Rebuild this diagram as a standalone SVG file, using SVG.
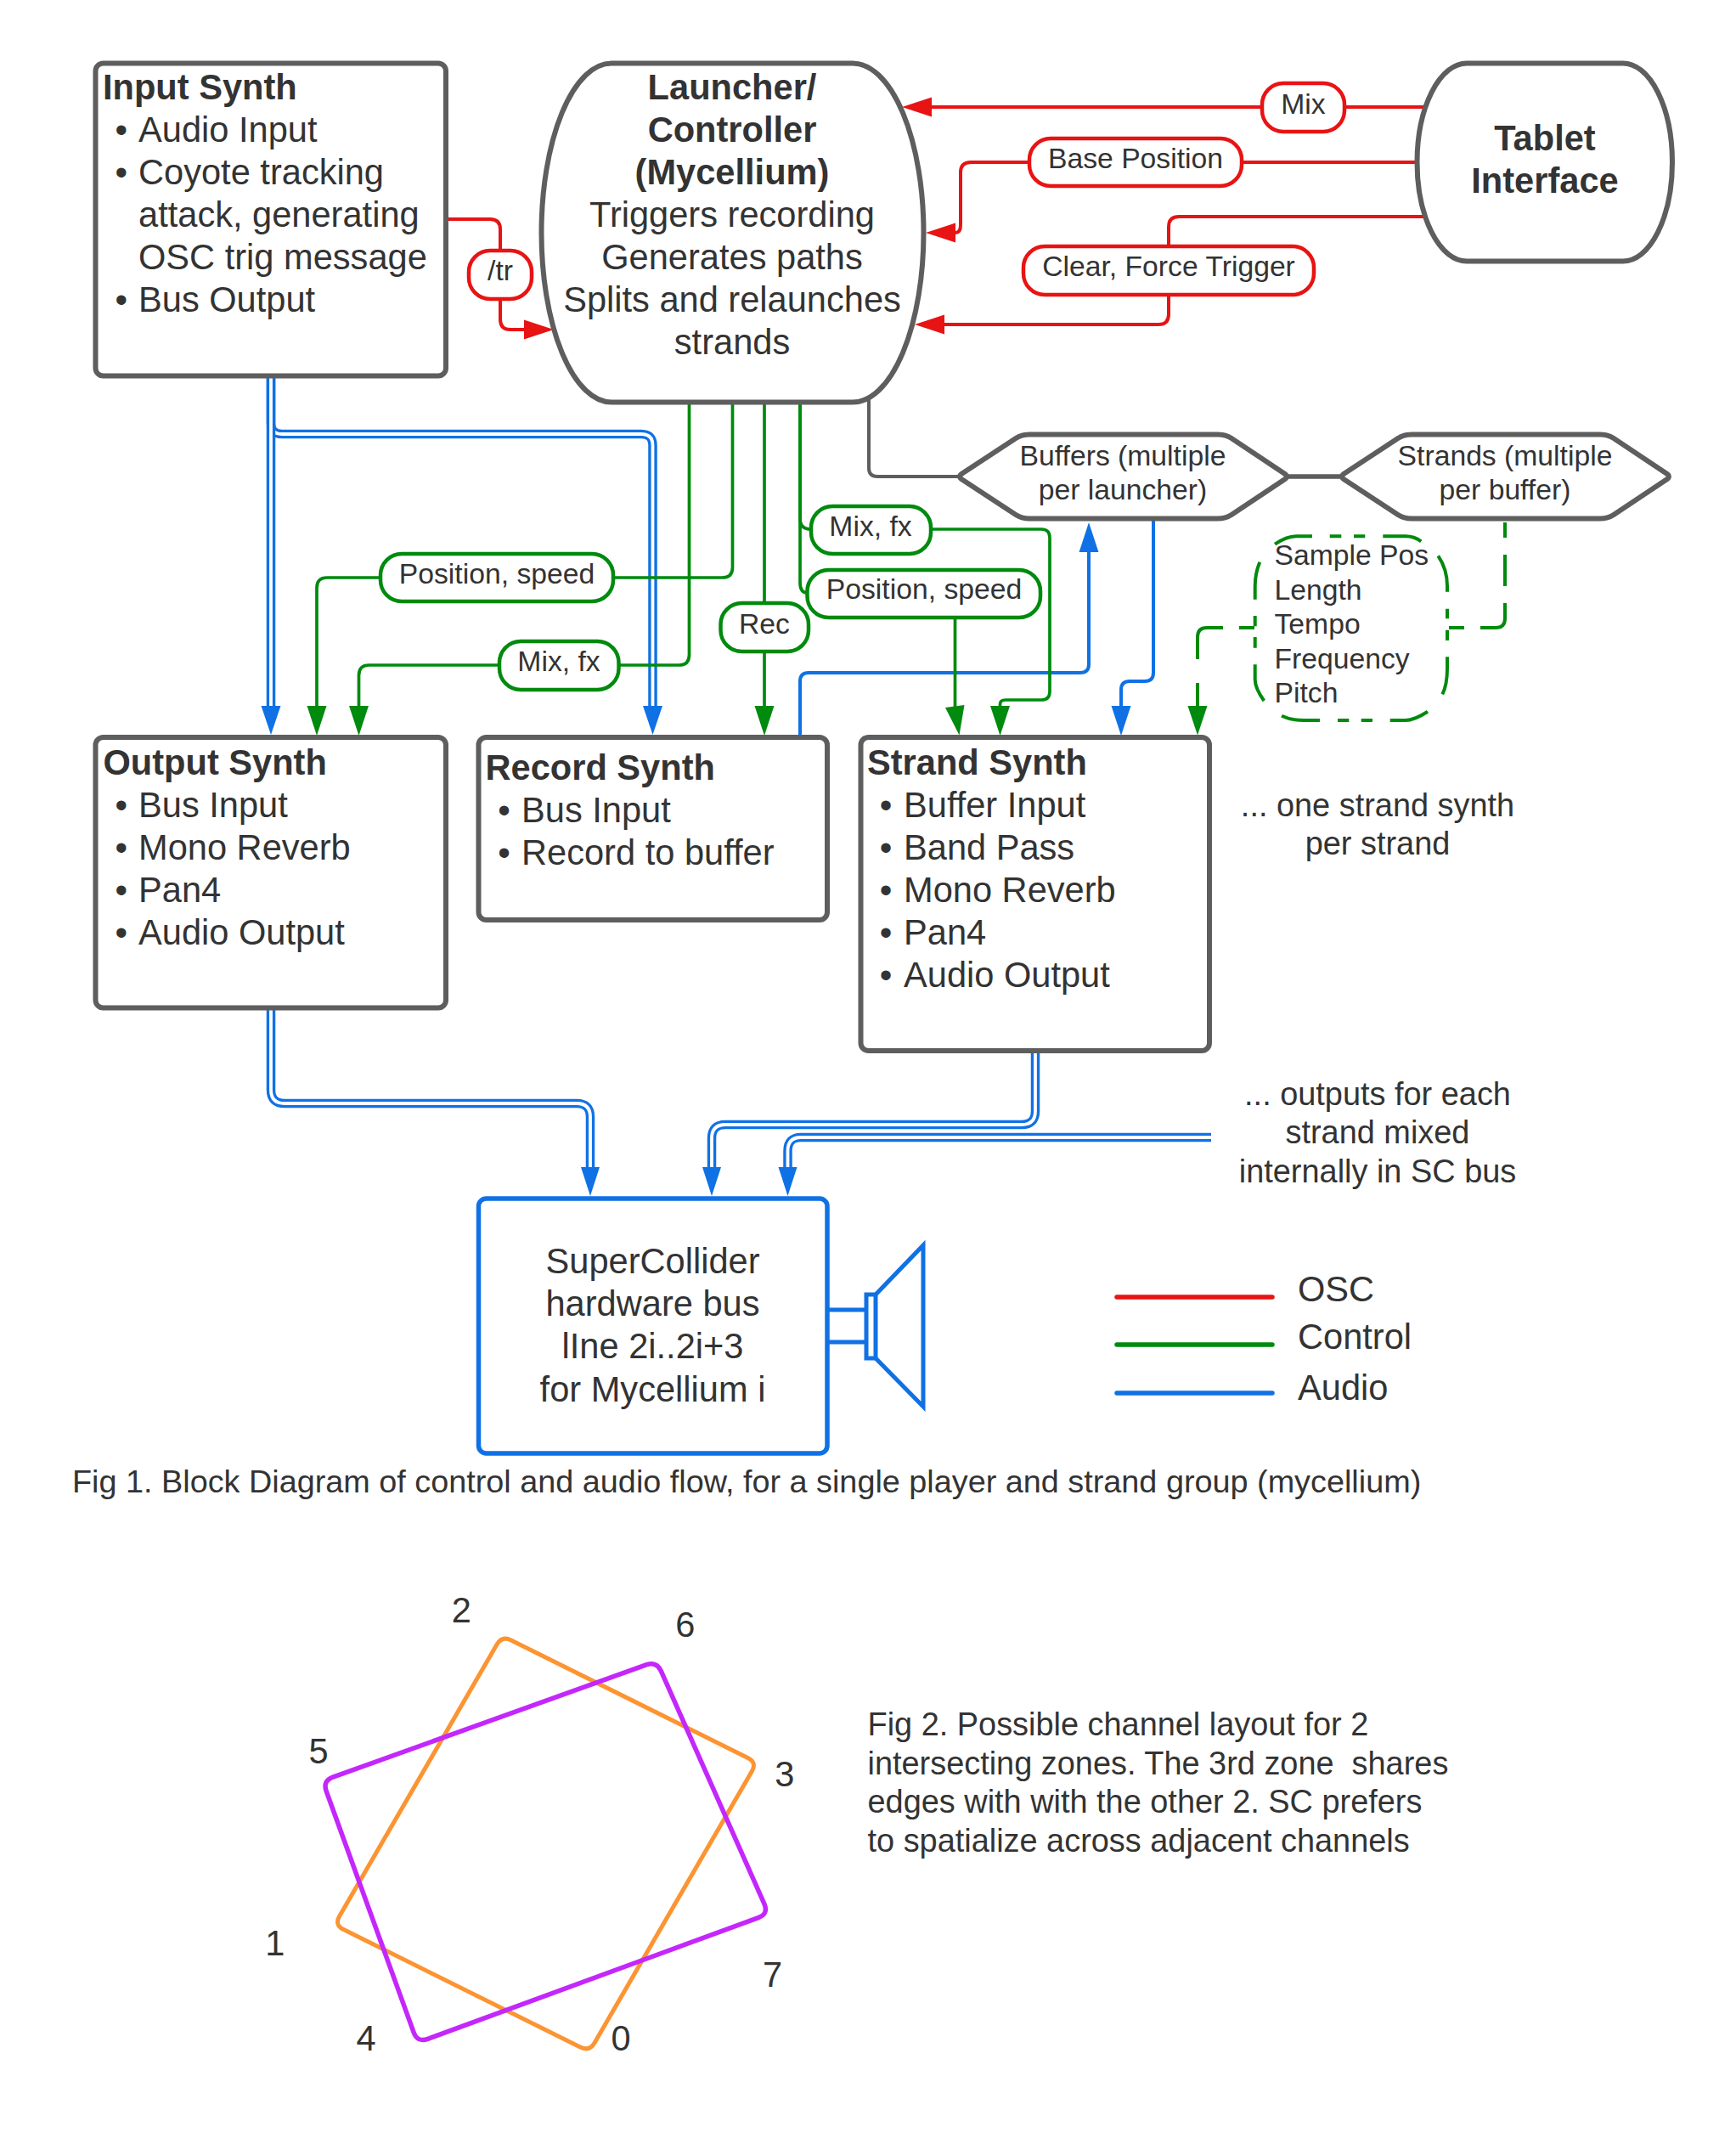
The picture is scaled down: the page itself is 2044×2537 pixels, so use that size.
<svg xmlns="http://www.w3.org/2000/svg" width="2044" height="2537" viewBox="0 0 2044 2537">
<style>
text{font-family:"Liberation Sans",Arial,sans-serif;fill:#333;font-size:41.6px;white-space:pre}
.b{font-weight:700}.m{text-anchor:middle}.s{font-size:33.7px}.f{font-size:37.9px}.c{font-size:37.8px}
.box{fill:#fff;stroke:#5e5e5e;stroke-width:6;stroke-linejoin:round}
.lr,.lg,.lgd,.lb,.lk{fill:none;stroke-width:4}
.lr{stroke:#e81313}.lg,.lgd{stroke:#008a0e}.lb{stroke:#1071e5}.lk{stroke:#5e5e5e}
.lg{stroke-width:3.7}
.thick{stroke-width:5.5}
.d1{fill:none;stroke:#1071e5;stroke-width:10.5}.d2{fill:none;stroke:#fff;stroke-width:3.8}
.pr,.pg{fill:#fff;stroke-width:4.5}.pr{stroke:#e81313}.pg{stroke:#008a0e}
</style>
<defs>
<marker id="ar" markerUnits="userSpaceOnUse" markerWidth="36" markerHeight="24" refX="0" refY="12" orient="auto"><path d="M0 .5L35 12L0 23.5z" fill="#e81313"/></marker>
<marker id="ag" markerUnits="userSpaceOnUse" markerWidth="36" markerHeight="24" refX="0" refY="12" orient="auto"><path d="M0 .5L35 12L0 23.5z" fill="#008a0e"/></marker>
<marker id="ab" markerUnits="userSpaceOnUse" markerWidth="36" markerHeight="24" refX="0" refY="12" orient="auto"><path d="M0 .5L35 12L0 23.5z" fill="#1071e5"/></marker>
</defs>
<g id="connectors">
<g id="audio">
<path class="lb" marker-end="url(#ab)" d="M942 868V802Q942 792 952 792H1272Q1282 792 1282 782V650"/>
<path class="lb" marker-end="url(#ab)" d="M1358 611V792Q1358 802 1348 802H1330Q1320 802 1320 812V831"/>
<path class="d1" d="M319 443V498Q319 511 332 511H755Q768.500 511 768.500 524V831"/>
<path class="d2" d="M319 443V498Q319 511 332 511H755Q768.500 511 768.500 524V831"/>
<path class="d1" d="M319 443V831"/><path class="d2" d="M319 443V831"/>
<path class="d1" d="M319 1186V1283Q319 1299 335 1299H679Q695 1299 695 1315V1374"/>
<path class="d2" d="M319 1186V1283Q319 1299 335 1299H679Q695 1299 695 1315V1374"/>
<path class="d1" d="M1219 1236V1308Q1219 1324 1203 1324H854Q838 1324 838 1340V1374"/>
<path class="d2" d="M1219 1236V1308Q1219 1324 1203 1324H854Q838 1324 838 1340V1374"/>
<path class="d1" d="M1426 1339H943Q927.500 1339 927.500 1355V1374"/>
<path class="d2" d="M1426 1339H943Q927.500 1339 927.500 1355V1374"/>
<path fill="#1071e5" d="M319 865L307.500 831H330.500zM768.500 865L757 831H780zM695 1408L684 1374H706zM838 1408L827 1374H849zM927.500 1408L916.500 1374H938.500z"/>
</g>
<g id="structure">
<path class="lk" d="M1023 462V551Q1023 561 1033 561H1132"/>
<path class="lk thick" d="M1515 561H1580"/>
</g>
<g id="osc">
<path class="lr" marker-end="url(#ar)" d="M525 258H577Q589 258 589 270V376Q589 388 601 388H617"/>
<path class="lr" marker-end="url(#ar)" d="M1676 126H1097"/>
<path class="lr" marker-end="url(#ar)" d="M1668 191H1143Q1131 191 1131 203V265Q1131 274 1125 274"/>
<path class="lr" marker-end="url(#ar)" d="M1676 255H1388Q1376 255 1376 267V370Q1376 382 1364 382H1112"/>
</g>
<g id="control">
<path class="lg" marker-end="url(#ag)" d="M862.500 475V668Q862.500 680 850.500 680H385Q373 680 373 692V831"/>
<path class="lg" marker-end="url(#ag)" d="M811.500 475V771Q811.500 783 799.500 783H434.500Q422.500 783 422.500 795V831"/>
<path class="lg" marker-end="url(#ag)" d="M900 475V831"/>
<path class="lg" d="M942 475V611Q942 623 955 623"/>
<path class="lg" d="M942 475V686Q942 698 951 698"/>
<path class="lg" marker-end="url(#ag)" d="M1096 623H1226Q1236 623 1236 633V814Q1236 824 1226 824H1184Q1177.500 824 1177.500 829V831"/>
<path class="lg" d="M1124.500 727V833"/>
<polygon fill="#008a0e" points="1113,833 1135.500,830 1129.500,865.500"/>
<path class="lgd" d="M1772 615V633M1772 653V690M1772 710V728Q1772 739 1761 739H1743M1724 739H1706M1477 739H1459M1440 739H1421Q1410 739 1410 750V776M1410 804V832"/>
<polygon fill="#008a0e" points="1398.500,831 1421.500,831 1410,865.500"/>
</g>
</g>
<g id="input-synth">
<rect class="box" x="112.500" y="74.500" width="412.500" height="368" rx="9"/>
<text class="b" x="121" y="116.500">Input Synth</text>
<text class="m" x="142.700" y="166.500">•</text><text x="163" y="166.500">Audio Input</text>
<text class="m" x="142.700" y="216.500">•</text><text x="163" y="216.500">Coyote tracking</text>
<text x="163" y="266.500">attack, generating</text>
<text x="163" y="316.500">OSC trig message</text>
<text class="m" x="142.700" y="366.500">•</text><text x="163" y="366.500">Bus Output</text>
</g>
<g id="launcher">
<path class="box" d="M720 74.500H1004A83.500 199.500 0 0 1 1004 473.500H720A82.500 199.500 0 0 1 720 74.500Z"/>
<text class="b m" x="862" y="116.500">Launcher/</text>
<text class="b m" x="862" y="166.500">Controller</text>
<text class="b m" x="862" y="216.500">(Mycellium)</text>
<text class="m" x="862" y="266.500">Triggers recording</text>
<text class="m" x="862" y="316.500">Generates paths</text>
<text class="m" x="862" y="366.500">Splits and relaunches</text>
<text class="m" x="862" y="416.500">strands</text>
</g>
<g id="tablet">
<path class="box" d="M1727 74.500H1911A58 116.500 0 0 1 1911 307.500H1727A58.500 116.500 0 0 1 1727 74.500Z"/>
<text class="b m" x="1819" y="177">Tablet</text>
<text class="b m" x="1819" y="227">Interface</text>
</g>
<g id="label-tr"><rect class="pr" x="552" y="295" width="74" height="57" rx="25"/><text class="s m" x="589" y="330">/tr</text></g>
<g id="label-mix-osc"><rect class="pr" x="1486" y="98" width="97" height="57" rx="25"/><text class="s m" x="1534.500" y="134">Mix</text></g>
<g id="label-base"><rect class="pr" x="1212" y="163" width="250" height="56" rx="25"/><text class="s m" x="1337" y="198">Base Position</text></g>
<g id="label-clear"><rect class="pr" x="1205" y="290" width="342" height="57" rx="25"/><text class="s m" x="1376" y="325">Clear, Force Trigger</text></g>
<g id="label-pos-1"><rect class="pg" x="448" y="652" width="274" height="56" rx="25"/><text class="s m" x="585" y="687">Position, speed</text></g>
<g id="label-mix-1"><rect class="pg" x="588" y="755" width="140.500" height="57" rx="25"/><text class="s m" x="658" y="790">Mix, fx</text></g>
<g id="label-rec"><rect class="pg" x="848.500" y="710" width="103.500" height="57" rx="25"/><text class="s m" x="900" y="746">Rec</text></g>
<g id="label-mix-2"><rect class="pg" x="955" y="596" width="141" height="56" rx="25"/><text class="s m" x="1025" y="631">Mix, fx</text></g>
<g id="label-pos-2"><rect class="pg" x="950.500" y="671" width="274.500" height="56" rx="25"/><text class="s m" x="1088" y="705">Position, speed</text></g>
<g id="buffers">
<path class="box" d="M1132 558L1196 516Q1203 511.500 1212 511.500H1434Q1443 511.500 1450 516L1513 558Q1517 561 1513 564L1450 606Q1443 610.500 1434 610.500H1212Q1203 610.500 1196 606L1132 564Q1128 561 1132 558Z"/>
<text class="s m" x="1322" y="548">Buffers (multiple</text>
<text class="s m" x="1322" y="588">per launcher)</text>
</g>
<g id="strands">
<path class="box" d="M1582 558L1646 516Q1653 511.500 1662 511.500H1884Q1893 511.500 1900 516L1963 558Q1967 561 1963 564L1900 606Q1893 610.500 1884 610.500H1662Q1653 610.500 1646 606L1582 564Q1578 561 1582 558Z"/>
<text class="s m" x="1772" y="548">Strands (multiple</text>
<text class="s m" x="1772" y="588">per buffer)</text>
</g>
<g id="params">
<path class="lgd" d="M1501 640.700Q1515 631.300 1527 631.300H1545M1565.700 631.300H1579.300M1594 631.300H1607.300M1628.300 631.300H1655Q1665 631.300 1673.300 637.300M1693.300 654.300Q1704 670 1704 690V696.700M1704 716.700V728.300M1704 741.700V754M1704 773.300V786.700Q1704 806 1698.300 817.300M1681 837.700Q1665 848 1655 848H1636.700M1616 848H1602.700M1588.300 848H1575M1554 848H1535Q1520 848 1509 842.700M1488.300 825Q1477.700 810 1477.700 800V782.300M1477.700 762.700V750M1477.700 737.300V725M1477.700 705.700V690Q1477.700 675 1483.300 661.700"/>
<text class="s" x="1500.500" y="664.500">Sample Pos</text>
<text class="s" x="1500.500" y="705.500">Length</text>
<text class="s" x="1500.500" y="746">Tempo</text>
<text class="s" x="1500.500" y="786.500">Frequency</text>
<text class="s" x="1500.500" y="827">Pitch</text>
</g>
<g id="output-synth">
<rect class="box" x="112.500" y="868" width="412.500" height="318.500" rx="9"/>
<text class="b" x="121.500" y="912">Output Synth</text>
<text class="m" x="142.700" y="962">•</text><text x="163" y="962">Bus Input</text>
<text class="m" x="142.700" y="1012">•</text><text x="163" y="1012">Mono Reverb</text>
<text class="m" x="142.700" y="1062">•</text><text x="163" y="1062">Pan4</text>
<text class="m" x="142.700" y="1112">•</text><text x="163" y="1112">Audio Output</text>
</g>
<g id="record-synth">
<rect class="box" x="563.500" y="868" width="410.500" height="215" rx="9"/>
<text class="b" x="571.500" y="918">Record Synth</text>
<text class="m" x="593.500" y="968">•</text><text x="614" y="968">Bus Input</text>
<text class="m" x="593.500" y="1018">•</text><text x="614" y="1018">Record to buffer</text>
</g>
<g id="strand-synth">
<rect class="box" x="1013.500" y="868" width="410.500" height="369" rx="9"/>
<text class="b" x="1021" y="912">Strand Synth</text>
<text class="m" x="1043" y="962">•</text><text x="1064" y="962">Buffer Input</text>
<text class="m" x="1043" y="1012">•</text><text x="1064" y="1012">Band Pass</text>
<text class="m" x="1043" y="1062">•</text><text x="1064" y="1062">Mono Reverb</text>
<text class="m" x="1043" y="1112">•</text><text x="1064" y="1112">Pan4</text>
<text class="m" x="1043" y="1162">•</text><text x="1064" y="1162">Audio Output</text>
</g>
<g id="note-strand"><text class="f m" x="1622" y="961">... one strand synth</text><text class="f m" x="1622" y="1006">per strand</text></g>
<g id="note-outputs"><text class="f m" x="1622" y="1300.500">... outputs for each</text><text class="f m" x="1622" y="1346">strand mixed</text><text class="f m" x="1622" y="1392">internally in SC bus</text></g>
<g id="hardware-bus">
<rect x="563.500" y="1411" width="410.500" height="300" rx="9" fill="#fff" stroke="#1071e5" stroke-width="5.500"/>
<text class="m" x="768.500" y="1498.500">SuperCollider</text>
<text class="m" x="768.500" y="1548.500">hardware bus</text>
<text class="m" x="768.500" y="1599">lIne 2i..2i+3</text>
<text class="m" x="768.500" y="1650">for Mycellium i</text>
</g>
<g id="speaker" fill="none" stroke="#1071e5" stroke-width="5">
<path d="M976 1542H1019M976 1580H1019"/>
<rect x="1020" y="1524" width="11" height="75"/>
<path d="M1031 1524L1087 1466V1656L1031 1599"/>
</g>
<g id="legend">
<path d="M1315 1527H1498" stroke="#e81313" stroke-width="5.500" stroke-linecap="round"/>
<path d="M1315 1583H1498" stroke="#008a0e" stroke-width="5.500" stroke-linecap="round"/>
<path d="M1315 1640H1498" stroke="#1071e5" stroke-width="5.500" stroke-linecap="round"/>
<text x="1528" y="1532">OSC</text><text x="1528" y="1588">Control</text><text x="1528" y="1648">Audio</text>
</g>
<text class="c" x="85" y="1757">Fig 1. Block Diagram of control and audio flow, for a single player and strand group (mycellium)</text>
<g id="fig2">
<path fill="none" stroke="#fc9432" stroke-width="5" d="M601.800 1931L880.500 2069.500Q891.300 2074.800 885.300 2085.200L700 2404.900Q694 2415.300 683.200 2410L404.500 2271.500Q393.700 2266.200 399.700 2255.800L585 1936.100Q591 1925.700 601.800 1931Z"/>
<path fill="none" stroke="#c427fb" stroke-width="5.500" d="M760.900 1959.900Q773.100 1955.500 778.400 1967.400L899.800 2241.200Q905.100 2253.100 892.900 2257.600L503.700 2400.300Q491.500 2404.800 487.100 2392.600L384.200 2108.700Q379.800 2096.500 392 2092.100Z"/>
<text class="m" x="543.400" y="1910">2</text><text class="m" x="806.800" y="1927">6</text><text class="m" x="375" y="2076">5</text><text class="m" x="923.800" y="2103">3</text><text class="m" x="323.800" y="2302">1</text><text class="m" x="909.500" y="2339">7</text><text class="m" x="431" y="2414">4</text><text class="m" x="731" y="2414">0</text>
<text class="f" x="1021.500" y="2042.500">Fig 2. Possible channel layout for 2</text>
<text class="f" x="1021.500" y="2089">intersecting zones. The 3rd zone  shares</text>
<text class="f" x="1021.500" y="2134">edges with with the other 2. SC prefers</text>
<text class="f" x="1021.500" y="2179.500">to spatialize across adjacent channels</text>
</g>
</svg>
